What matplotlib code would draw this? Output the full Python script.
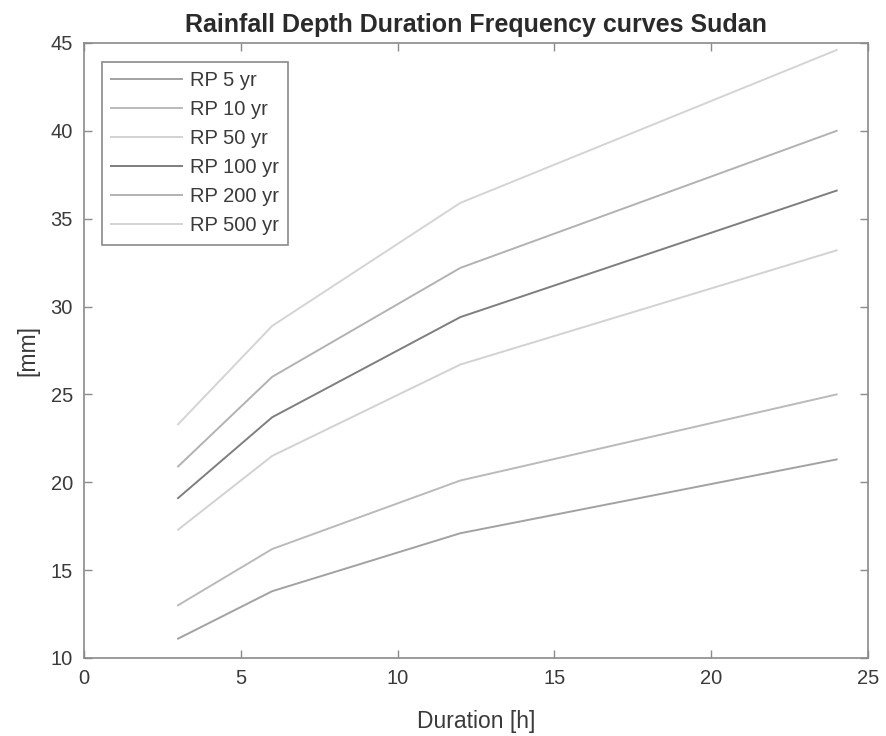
import matplotlib
matplotlib.use("Agg")
import matplotlib.pyplot as plt

durations = [3, 6, 12, 24]
rp5 = [11.1, 13.8, 17.1, 21.3]
rp10 = [13.0, 16.2, 20.1, 25.0]
rp50 = [17.3, 21.5, 26.7, 33.2]
rp100 = [19.1, 23.7, 29.4, 36.6]
rp200 = [20.9, 26.0, 32.2, 40.0]
rp500 = [23.3, 28.9, 35.9, 44.6]
labels = ["RP 5 yr", "RP 10 yr", "RP 50 yr", "RP 100 yr", "RP 200 yr", "RP 500 yr"]
series = [rp5, rp10, rp50, rp100, rp200, rp500]
colors = ["#a2a2a2", "#bababa", "#d2d2d2", "#7e7e7e", "#b2b2b2", "#d4d4d4"]

plt.rcParams['font.family'] = ['Liberation Sans', 'DejaVu Sans']
fig = plt.figure(figsize=(8.87, 7.36), dpi=100)
ax = fig.add_axes([0.0947, 0.106, 0.8839, 0.8356])
for s, lab, c in zip(series, labels, colors):
    ax.plot(durations, s, color=c, lw=1.4, label=lab)

ax.set_xlim(0, 25)
ax.set_ylim(10, 45)
ax.set_xticks([0, 5, 10, 15, 20, 25])
ax.set_yticks([10, 15, 20, 25, 30, 35, 40, 45])
axcol = "#8a8a8a"
txtcol = "#3a3a3a"
for sp in ax.spines.values():
    sp.set_color(axcol)
    sp.set_linewidth(1.2)
ax.tick_params(direction='in', top=True, right=True, length=6, width=1.0,
               colors=axcol, labelcolor=txtcol, labelsize=14.5, pad=8)
ax.set_xlabel("Duration [h]", fontsize=16.5, color=txtcol, labelpad=16)
ax.set_ylabel("[mm]", fontsize=16.5, color=txtcol, labelpad=8)
ax.set_title("Rainfall Depth Duration Frequency curves Sudan", fontsize=18,
             fontweight='bold', color="#2a2a2a", pad=8)
leg = ax.legend(loc='upper left', bbox_to_anchor=(0.023, 0.969), fontsize=14.5,
                frameon=True, fancybox=False, framealpha=1, edgecolor=axcol,
                handlelength=3.5, handletextpad=0.4, labelspacing=0.5,
                borderpad=0.45, borderaxespad=0.0)
leg.get_frame().set_linewidth(1.2)
for t in leg.get_texts():
    t.set_color(txtcol)

fig.savefig("out.png", dpi=100)
